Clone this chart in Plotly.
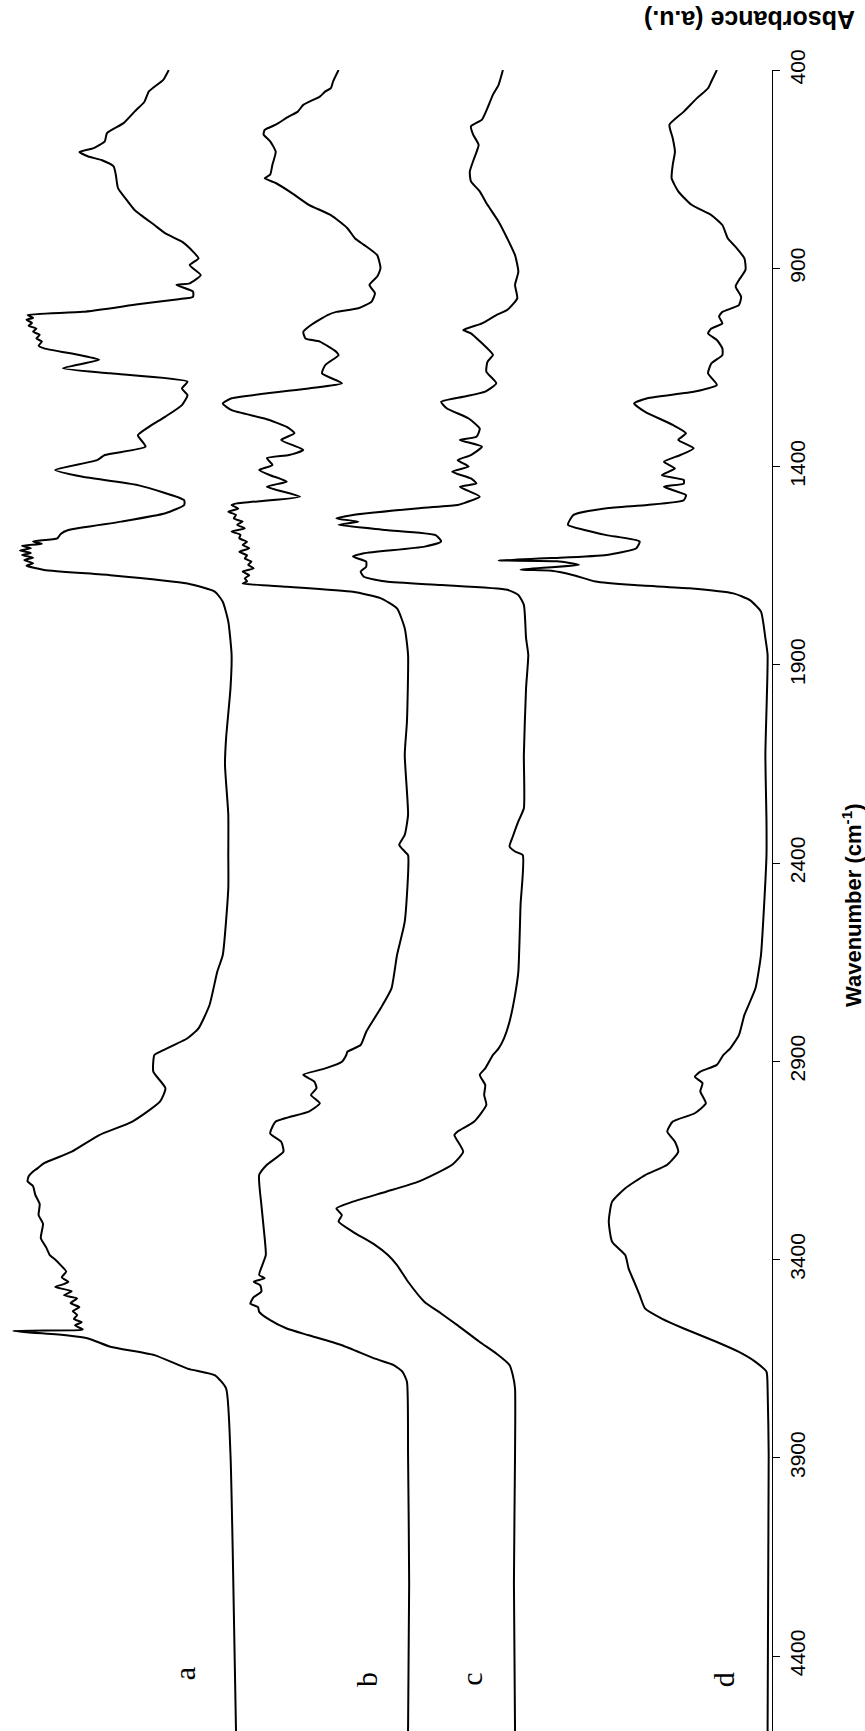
import plotly.graph_objects as go

# Wavenumber (cm-1) and absorbance (a.u., stacked offsets)
wn_a = [400, 425, 454, 480, 505, 534, 559, 580, 597, 607, 618, 627, 643, 664, 698, 732, 753, 791, 812, 833, 858, 875, 892,
        917, 938, 942, 959, 972, 978, 991, 1010, 1018, 1025, 1030, 1038, 1045, 1052, 1060, 1068, 1077, 1085, 1095, 1102,
        1119, 1131, 1152, 1165, 1186, 1203, 1220, 1245, 1274, 1300, 1321, 1350, 1371, 1384, 1409, 1426, 1447, 1485, 1497,
        1518, 1539, 1560, 1570, 1581, 1589, 1595, 1600, 1606, 1612, 1618, 1623, 1630, 1636, 1644, 1650, 1661, 1674, 1695,
        1716, 1741, 1791, 1875, 1959, 2085, 2152, 2278, 2379, 2464, 2632, 2674, 2758, 2817, 2842, 2876, 2884, 2926, 2968,
        3002, 3052, 3086, 3128, 3157, 3170, 3178, 3190, 3203, 3215, 3237, 3260, 3288, 3310, 3346, 3370, 3388, 3400, 3414,
        3430, 3445, 3456, 3462, 3469, 3480, 3490, 3498, 3510, 3520, 3530, 3540, 3550, 3558, 3566, 3576, 3578, 3580, 3591,
        3599, 3620, 3641, 3675, 3692, 3725, 3893, 4132, 4589]
ab_a = [5.47, 5.52, 5.65, 5.69, 5.78, 5.88, 6.03, 6.05, 6.15, 6.28, 6.20, 6.08, 5.97, 5.95, 5.93, 5.84, 5.78, 5.60, 5.50,
        5.35, 5.25, 5.20, 5.28, 5.18, 5.28, 5.40, 5.25, 5.25, 5.38, 5.75, 6.25, 6.75, 6.70, 6.76, 6.71, 6.74, 6.67, 6.70,
        6.64, 6.67, 6.62, 6.65, 6.60, 6.28, 6.10, 6.43, 6.00, 5.30, 5.35, 5.30, 5.35, 5.50, 5.65, 5.75, 5.68, 6.05, 6.12,
        6.50, 6.25, 5.75, 5.33, 5.33, 5.50, 5.90, 6.38, 6.45, 6.48, 6.70, 6.62, 6.80, 6.72, 6.82, 6.72, 6.80, 6.70, 6.78,
        6.70, 6.76, 6.60, 6.00, 5.30, 5.05, 4.98, 4.93, 4.90, 4.91, 4.95, 4.96, 4.93, 4.93, 4.93, 4.98, 5.03, 5.10, 5.20,
        5.30, 5.55, 5.60, 5.61, 5.50, 5.55, 5.80, 6.10, 6.35, 6.60, 6.66, 6.70, 6.74, 6.75, 6.70, 6.68, 6.64, 6.65, 6.61,
        6.63, 6.58, 6.55, 6.50, 6.45, 6.40, 6.44, 6.38, 6.42, 6.50, 6.35, 6.42, 6.30, 6.36, 6.28, 6.34, 6.30, 6.33, 6.26,
        6.32, 6.25, 6.28, 6.88, 6.40, 6.20, 6.00, 5.60, 5.30, 5.05, 4.95, 4.91, 4.89, 4.86, 4.86]

wn_b = [400, 429, 446, 454, 467, 488, 505, 517, 538, 551, 563, 580, 606, 639, 664, 673, 685, 711, 740, 766, 799, 825, 841,
        867, 900, 921, 942, 963, 984, 1001, 1010, 1018, 1043, 1060, 1077, 1085, 1111, 1119, 1144, 1165, 1190, 1203, 1228,
        1241, 1258, 1279, 1300, 1316, 1333, 1358, 1371, 1379, 1396, 1409, 1422, 1438, 1451, 1476, 1493, 1497, 1506, 1514,
        1522, 1531, 1539, 1547, 1556, 1564, 1572, 1581, 1590, 1598, 1606, 1615, 1624, 1632, 1640, 1648, 1657, 1665, 1674,
        1682, 1690, 1695, 1703, 1716, 1732, 1758, 1808, 1875, 2043, 2127, 2278, 2329, 2354, 2371, 2380, 2548, 2632, 2716,
        2767, 2826, 2859, 2876, 2884, 2901, 2918, 2934, 2951, 2968, 2985, 3006, 3027, 3052, 3082, 3103, 3128, 3161, 3187,
        3262, 3346, 3389, 3439, 3447, 3456, 3465, 3481, 3495, 3511, 3520, 3532, 3553, 3574, 3591, 3616, 3650, 3666, 3683,
        3708, 3893, 4216, 4589]
ab_b = [3.93, 3.98, 4.00, 4.05, 4.10, 4.25, 4.30, 4.38, 4.50, 4.60, 4.61, 4.55, 4.50, 4.53, 4.55, 4.60, 4.50, 4.35, 4.20,
        4.00, 3.85, 3.78, 3.70, 3.58, 3.55, 3.58, 3.65, 3.60, 3.63, 3.75, 3.95, 4.03, 4.18, 4.25, 4.23, 4.10, 3.95, 3.93,
        4.05, 4.08, 3.90, 4.20, 4.90, 4.98, 4.90, 4.60, 4.40, 4.33, 4.45, 4.25, 4.38, 4.58, 4.53, 4.65, 4.55, 4.40, 4.58,
        4.28, 4.85, 4.90, 4.84, 4.93, 4.86, 4.88, 4.80, 4.85, 4.78, 4.90, 4.82, 4.83, 4.76, 4.80, 4.74, 4.83, 4.76, 4.78,
        4.72, 4.75, 4.70, 4.80, 4.74, 4.78, 4.76, 4.80, 4.40, 3.80, 3.55, 3.40, 3.33, 3.30, 3.31, 3.33, 3.30, 3.33, 3.38,
        3.33, 3.30, 3.33, 3.40, 3.45, 3.55, 3.68, 3.73, 3.85, 3.86, 3.90, 4.05, 4.25, 4.15, 4.13, 4.18, 4.10, 4.20, 4.50,
        4.55, 4.45, 4.43, 4.58, 4.65, 4.63, 4.60, 4.59, 4.65, 4.60, 4.70, 4.64, 4.63, 4.70, 4.73, 4.66, 4.65, 4.55, 4.40,
        4.20, 3.90, 3.60, 3.43, 3.35, 3.31, 3.30, 3.29, 3.30]

wn_c = [400, 438, 462, 496, 525, 542, 563, 589, 622, 656, 681, 706, 740, 782, 825, 867, 909, 942, 976, 1005, 1018, 1039,
        1056, 1064, 1111, 1119, 1136, 1161, 1190, 1211, 1224, 1237, 1253, 1279, 1304, 1325, 1333, 1350, 1371, 1384, 1400,
        1413, 1430, 1443, 1451, 1476, 1493, 1497, 1505, 1522, 1531, 1539, 1547, 1560, 1573, 1589, 1602, 1619, 1627, 1640,
        1653, 1665, 1678, 1690, 1699, 1711, 1724, 1749, 1833, 1875, 1959, 2127, 2262, 2295, 2333, 2358, 2371, 2380, 2506,
        2674, 2733, 2800, 2842, 2868, 2884, 2918, 2934, 2960, 2985, 3010, 3052, 3077, 3086, 3128, 3161, 3203, 3229, 3254,
        3271, 3288, 3304, 3330, 3363, 3389, 3414, 3456, 3507, 3536, 3566, 3608, 3637, 3666, 3692, 3725, 3893, 4216, 4589]
ab_c = [2.44, 2.48, 2.53, 2.58, 2.63, 2.73, 2.71, 2.66, 2.70, 2.74, 2.73, 2.65, 2.58, 2.48, 2.40, 2.33, 2.30, 2.33, 2.31,
        2.40, 2.50, 2.63, 2.80, 2.73, 2.55, 2.53, 2.58, 2.59, 2.50, 2.60, 2.80, 3.00, 2.95, 2.75, 2.65, 2.68, 2.83, 2.63,
        2.73, 2.85, 2.75, 2.90, 2.73, 2.68, 2.83, 2.65, 2.80, 2.85, 3.20, 3.80, 3.95, 3.75, 3.93, 3.50, 3.05, 3.00, 3.15,
        3.70, 3.80, 3.68, 3.68, 3.73, 3.70, 3.50, 3.00, 2.40, 2.30, 2.25, 2.23, 2.21, 2.23, 2.25, 2.25, 2.30, 2.35, 2.38,
        2.33, 2.26, 2.28, 2.30, 2.33, 2.38, 2.43, 2.48, 2.53, 2.60, 2.65, 2.60, 2.61, 2.59, 2.70, 2.85, 2.88, 2.80, 2.90,
        3.20, 3.50, 3.80, 3.95, 3.90, 3.93, 3.80, 3.60, 3.48, 3.40, 3.30, 3.15, 3.00, 2.85, 2.65, 2.50, 2.38, 2.35, 2.33,
        2.33, 2.34, 2.33]

wn_d = [400, 429, 446, 471, 505, 538, 572, 606, 639, 673, 706, 740, 766, 791, 825, 846, 875, 904, 930, 946, 972, 993, 1010,
        1022, 1039, 1052, 1064, 1081, 1102, 1119, 1140, 1165, 1194, 1211, 1228, 1241, 1262, 1295, 1316, 1333, 1354, 1371,
        1388, 1405, 1422, 1434, 1443, 1451, 1472, 1485, 1497, 1505, 1522, 1547, 1560, 1573, 1589, 1606, 1623, 1631, 1637,
        1639, 1648, 1660, 1663, 1674, 1690, 1699, 1707, 1720, 1737, 1766, 1833, 1875, 2127, 2295, 2380, 2548, 2632, 2716,
        2783, 2834, 2868, 2884, 2909, 2926, 2939, 2955, 2976, 3006, 3031, 3052, 3077, 3103, 3128, 3161, 3187, 3220, 3254,
        3304, 3355, 3389, 3423, 3456, 3490, 3524, 3549, 3574, 3608, 3633, 3658, 3683, 3725, 3893, 4589]
ab_d = [0.50, 0.55, 0.58, 0.68, 0.80, 0.93, 0.90, 0.88, 0.90, 0.91, 0.85, 0.73, 0.55, 0.45, 0.40, 0.33, 0.25, 0.24, 0.30,
        0.33, 0.28, 0.30, 0.45, 0.48, 0.45, 0.55, 0.58, 0.50, 0.45, 0.45, 0.55, 0.58, 0.50, 0.70, 1.13, 1.25, 1.15, 0.90,
        0.78, 0.85, 0.71, 0.83, 0.98, 0.88, 1.00, 0.80, 0.80, 0.98, 0.78, 0.80, 1.13, 1.50, 1.80, 1.85, 1.70, 1.50, 1.20,
        1.23, 1.50, 2.00, 2.48, 1.95, 1.75, 2.28, 2.00, 1.80, 1.60, 1.25, 0.75, 0.35, 0.20, 0.10, 0.06, 0.04, 0.06, 0.05,
        0.05, 0.08, 0.10, 0.15, 0.25, 0.30, 0.38, 0.44, 0.50, 0.65, 0.70, 0.63, 0.65, 0.60, 0.70, 0.90, 0.95, 0.88, 0.85,
        0.95, 1.15, 1.33, 1.45, 1.48, 1.45, 1.33, 1.30, 1.25, 1.20, 1.15, 1.00, 0.80, 0.50, 0.30, 0.15, 0.05, 0.04, 0.03,
        0.04]

series = [("a", wn_a, ab_a), ("b", wn_b, ab_b), ("c", wn_c, ab_c), ("d", wn_d, ab_d)]
tick_vals = [400, 900, 1400, 1900, 2400, 2900, 3400, 3900, 4400]
label_pos = {"a": (5.32, 4445), "b": (3.67, 4460), "c": (2.72, 4460), "d": (0.44, 4460)}

W, H = 865, 1731
PLOT_W, PLOT_T = 772, 70
PLOT_H = H - PLOT_T

fig = go.Figure()
for name, wn, ab in series:
    fig.add_trace(go.Scatter(x=ab, y=wn, mode="lines", name=name,
                             line=dict(color="black", width=2, shape="spline", smoothing=0.5),
                             showlegend=False))

for name, (xa, ya) in label_pos.items():
    fig.add_annotation(x=xa, y=ya, xref="x", yref="y", text=name, showarrow=False,
                       xanchor="center", yanchor="middle", textangle=-90,
                       font=dict(family="Liberation Serif", size=30, color="black"))

fig.add_annotation(x=852 / PLOT_W, y=(H - 905) / PLOT_H, xref="paper", yref="paper",
                   xanchor="center", yanchor="middle",
                   text="<b>Wavenumber (cm<sup>-1</sup>)</b>", showarrow=False, textangle=-90,
                   font=dict(family="Liberation Sans", size=22, color="black"))
fig.add_annotation(x=750 / PLOT_W, y=(H - 20) / PLOT_H, xref="paper", yref="paper",
                   xanchor="center", yanchor="middle",
                   text="<b>Absorbance (a.u.)</b>", showarrow=False, textangle=180,
                   font=dict(family="Liberation Sans", size=25, color="black"))

fig.update_layout(
    width=W, height=H,
    margin=dict(l=0, r=W - PLOT_W, t=PLOT_T, b=0),
    paper_bgcolor="white", plot_bgcolor="white",
    xaxis=dict(range=[7.0, 0], visible=False),
    yaxis=dict(range=[4589, 400], side="right", showline=True, linecolor="black", linewidth=1,
               ticks="outside", ticklen=7, tickcolor="black", tickvals=tick_vals,
               tickangle=-90, showgrid=False, zeroline=False,
               tickfont=dict(family="Liberation Sans", size=21, color="black")),
)

# remove the default page margin and scrollbars so the figure fills the window exactly
page_fix = ("document.documentElement.style.margin='0';document.documentElement.style.overflow='hidden';"
            "document.body.style.margin='0';document.body.style.padding='0';document.body.style.overflow='hidden';")
fig.write_html("out.html", post_script=page_fix, config={"displayModeBar": False})
